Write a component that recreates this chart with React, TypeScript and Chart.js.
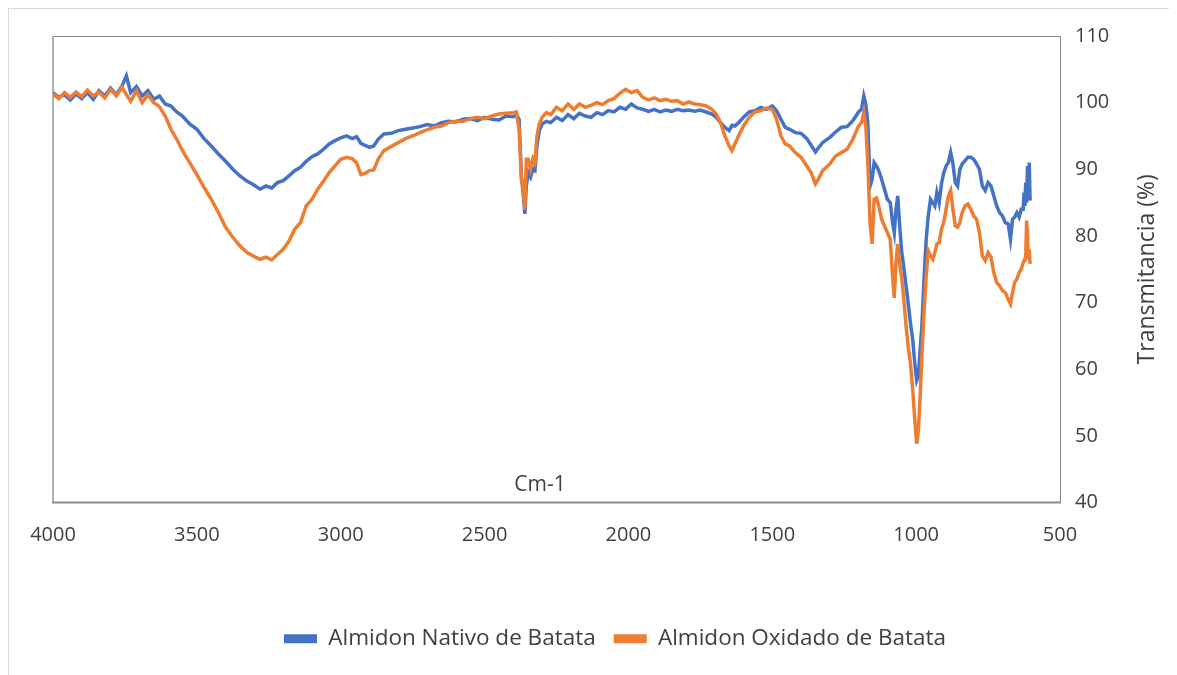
import { useEffect, useRef } from "react";
import { Chart, registerables } from "chart.js";

Chart.register(...registerables);

const wavenumbers = [
  4000, 3980, 3960, 3940, 3920, 3900, 3880, 3860, 3840, 3820,
  3800, 3780, 3760, 3745, 3730, 3710, 3690, 3670, 3650, 3630,
  3610, 3590, 3570, 3550, 3525, 3500, 3475, 3450, 3425, 3400,
  3375, 3350, 3325, 3300, 3280, 3260, 3240, 3220, 3200, 3180,
  3160, 3140, 3120, 3100, 3080, 3060, 3040, 3020, 3000, 2980,
  2960, 2945, 2930, 2915, 2900, 2885, 2870, 2850, 2825, 2800,
  2775, 2750, 2725, 2700, 2675, 2650, 2625, 2600, 2575, 2550,
  2525, 2500, 2475, 2450, 2425, 2400, 2390, 2380, 2372, 2365,
  2360, 2355, 2348, 2340, 2332, 2325, 2318, 2310, 2300, 2285,
  2270, 2250, 2230, 2210, 2190, 2170, 2150, 2130, 2110, 2090,
  2070, 2050, 2030, 2010, 1990, 1970, 1950, 1930, 1910, 1890,
  1870, 1850, 1830, 1810, 1790, 1770, 1750, 1730, 1710, 1695,
  1680, 1665, 1650, 1640, 1630, 1615, 1600, 1580, 1560, 1540,
  1520, 1500, 1485, 1470, 1455, 1440, 1420, 1400, 1380, 1365,
  1350, 1340, 1325, 1300, 1280, 1260, 1240, 1220, 1200, 1190,
  1182, 1175, 1168, 1160, 1153, 1146, 1138, 1130, 1120, 1110,
  1100, 1090, 1082, 1076, 1070, 1064, 1058, 1050, 1042, 1035,
  1028, 1020, 1012, 1005, 998, 992, 986, 980, 972, 965,
  958, 950, 942, 935, 928, 920, 912, 904, 896, 888,
  880, 872, 864, 856, 848, 840, 830, 820, 810, 800,
  790, 780, 770, 760, 750, 740, 730, 720, 710, 700,
  690, 680, 672, 665, 658, 650, 642, 635, 628, 625,
  622, 619, 616, 613, 610, 607, 604,
];

const nativo = [
  101.5, 100.8, 101.2, 100.4, 101.3, 100.6, 101.5, 100.5, 101.8, 101.0,
  102.2, 101.2, 102.5, 104.0, 101.5, 102.4, 101.0, 101.8, 100.5, 101.0,
  99.8, 99.5, 98.6, 98.0, 96.8, 96.0, 94.6, 93.5, 92.3, 91.2,
  90.0, 89.0, 88.2, 87.6, 87.0, 87.5, 87.2, 88.0, 88.3, 89.0,
  89.8, 90.3, 91.2, 91.9, 92.3, 93.0, 93.8, 94.3, 94.7, 95.0,
  94.6, 94.9, 93.9, 93.6, 93.3, 93.5, 94.5, 95.3, 95.4, 95.8,
  96.0, 96.2, 96.4, 96.7, 96.5, 97.0, 97.2, 97.1, 97.5, 97.6,
  97.3, 97.8, 97.5, 97.4, 98.0, 97.9, 98.2, 97.5, 89.0, 86.0,
  83.3, 87.5, 89.5, 88.8, 90.0, 89.8, 93.5, 95.8, 96.8, 97.2,
  97.0, 97.8, 97.3, 98.2, 97.6, 98.4, 98.0, 97.8, 98.5, 98.2,
  98.8, 98.6, 99.3, 99.0, 99.8, 99.2, 99.0, 98.7, 99.0, 98.6,
  98.9, 98.7, 99.0, 98.8, 98.9, 98.7, 98.9, 98.6, 98.3, 97.8,
  97.0, 96.3, 95.8, 96.6, 96.5, 97.1, 97.8, 98.6, 98.8, 99.3,
  99.0, 99.5, 98.8, 97.5, 96.3, 96.0, 95.5, 95.4, 94.6, 93.6,
  92.6, 93.2, 94.0, 94.8, 95.6, 96.3, 96.4, 97.3, 98.6, 99.0,
  101.0, 99.8, 97.0, 87.5, 88.5, 91.0, 90.5, 89.8, 88.5, 87.0,
  85.5, 85.0, 82.0, 80.5, 84.0, 86.0, 82.0, 77.5, 75.0, 72.5,
  70.0, 67.0, 64.5, 61.0, 58.3, 59.0, 63.0, 66.5, 74.0, 79.5,
  83.0, 85.5, 85.0, 84.5, 86.5, 85.0, 87.8, 89.5, 90.5, 91.0,
  92.5, 90.8, 88.0, 87.5, 90.0, 90.8, 91.3, 91.8, 91.8, 91.5,
  90.8, 90.0, 87.5, 86.8, 88.0, 87.5, 86.0, 84.5, 83.5, 83.0,
  82.0, 81.8, 79.5, 82.5, 82.8, 83.5, 82.8, 84.0, 84.0, 86.5,
  84.5, 88.0, 85.0, 90.5, 85.5, 91.0, 85.3,
];

const oxidado = [
  101.3, 100.6, 101.5, 100.8, 101.6, 100.9, 101.9, 101.0, 101.6, 100.7,
  102.0, 101.0, 102.3, 101.2, 100.2, 101.8, 100.0, 101.2, 100.0, 99.4,
  98.0, 96.0, 94.5, 92.8, 91.0, 89.2, 87.3, 85.5, 83.5, 81.3,
  79.8, 78.5, 77.5, 76.9, 76.5, 76.8, 76.4, 77.2, 78.0, 79.2,
  81.0, 82.0, 84.5, 85.5, 87.0, 88.2, 89.5, 90.5, 91.5, 91.8,
  91.6, 91.0, 89.2, 89.4, 89.8, 89.9, 91.5, 92.8, 93.4, 94.0,
  94.6, 95.0, 95.5, 95.9, 96.3, 96.5, 97.0, 97.2, 97.2, 97.6,
  97.8, 97.6, 98.0, 98.3, 98.4, 98.5, 98.6, 96.0, 88.5, 87.0,
  84.0, 91.5, 91.5, 90.0, 91.6, 91.0, 95.0, 96.8, 97.8, 98.5,
  98.2, 99.3, 98.8, 99.8, 99.0, 99.8, 99.3, 99.6, 100.0, 99.7,
  100.3, 100.6, 101.4, 102.0, 101.5, 101.8, 100.8, 100.4, 100.7, 100.3,
  100.5, 100.2, 100.3, 99.8, 100.1, 99.8, 99.7, 99.5, 99.0, 98.3,
  97.0, 95.0, 93.5, 92.8, 93.8, 95.2, 96.5, 97.8, 98.6, 98.8,
  99.2, 99.0, 97.5, 95.0, 93.8, 93.5, 92.5, 91.8, 90.5, 89.5,
  87.8, 88.5, 89.8, 90.8, 92.0, 92.5, 93.0, 94.5, 96.5, 97.0,
  98.5, 96.5, 91.0, 81.8, 78.8, 85.5, 85.7, 84.5, 82.5, 81.5,
  80.5, 79.5, 74.0, 70.7, 76.0, 78.8, 76.0, 73.7, 70.0, 66.5,
  63.5, 61.0, 57.0, 52.5, 48.8, 51.0, 56.0, 62.0, 69.0, 74.0,
  77.8, 77.0, 76.5, 77.5, 78.8, 79.0, 81.0, 82.0, 84.0, 86.0,
  86.8, 84.0, 81.5, 81.3, 82.0, 83.5, 84.5, 84.8, 84.0, 83.0,
  82.5, 80.5, 77.0, 76.3, 77.5, 76.8, 74.5, 73.0, 72.5, 71.8,
  71.5, 70.5, 69.8, 71.5, 73.0, 73.5, 74.5, 75.0, 76.0, 76.3,
  76.5, 77.0, 82.3, 80.0, 76.5, 78.0, 75.8,
];

const seriesNames = ["Almidon Nativo de Batata", "Almidon Oxidado de Batata"];
const seriesColors = ["#4472C4", "#ED7D31"];
const xAxisTitle = "Cm-1";
const yAxisTitle = "Transmitancia (%)";

const FONT = "'Open Sans', 'Liberation Sans', sans-serif";
const TEXT = "#404040";

export default function App() {
  const ref = useRef<HTMLCanvasElement>(null);

  useEffect(() => {
    const canvas = ref.current;
    if (!canvas) return;

    const decor = {
      id: "decor",
      beforeDatasetsDraw(chart: any) {
        const { ctx, chartArea } = chart;
        const { left, top, right, bottom } = chartArea;
        ctx.save();
        ctx.strokeStyle = "#8a8a8a";
        ctx.lineWidth = 1;
        ctx.beginPath();
        ctx.moveTo(left, top + 0.5);
        ctx.lineTo(right + 0.5, top + 0.5);
        ctx.lineTo(right + 0.5, bottom);
        ctx.stroke();
        ctx.strokeStyle = "#b0b0b0";
        ctx.lineWidth = 2;
        ctx.beginPath();
        ctx.moveTo(left, top);
        ctx.lineTo(left, bottom);
        ctx.stroke();
        ctx.strokeStyle = "#8a8a8a";
        ctx.beginPath();
        ctx.moveTo(left - 1, bottom);
        ctx.lineTo(right + 1, bottom);
        ctx.stroke();
        ctx.restore();
      },
      afterDraw(chart: any) {
        const { ctx, chartArea } = chart;
        const { left, top, right, bottom } = chartArea;
        ctx.save();
        ctx.fillStyle = TEXT;
        ctx.textAlign = "center";
        ctx.textBaseline = "middle";
        ctx.font = `21px ${FONT}`;
        ctx.fillText(xAxisTitle, left + 0.4836 * (right - left), bottom - 17);
        ctx.font = `23px ${FONT}`;
        ctx.translate(1138, (top + bottom) / 2);
        ctx.rotate(-Math.PI / 2);
        ctx.fillText(yAxisTitle, 0, 0);
        ctx.restore();
      },
    };

    const chart = new Chart(canvas, {
      type: "line",
      data: {
        labels: wavenumbers,
        datasets: [
          {
            label: seriesNames[0],
            data: wavenumbers.map((x, i) => ({ x, y: nativo[i] })),
            borderColor: seriesColors[0],
            backgroundColor: seriesColors[0],
            borderWidth: 3.5,
            pointRadius: 0,
            tension: 0,
            order: 1,
          },
          {
            label: seriesNames[1],
            data: wavenumbers.map((x, i) => ({ x, y: oxidado[i] })),
            borderColor: seriesColors[1],
            backgroundColor: seriesColors[1],
            borderWidth: 3.5,
            pointRadius: 0,
            tension: 0,
            order: 0,
          },
        ],
      },
      options: {
        responsive: false,
        animation: false,
        layout: { padding: { left: 44, top: 24, right: 0, bottom: 15 } },
        scales: {
          x: {
            type: "linear",
            reverse: true,
            min: 500,
            max: 4000,
            grid: { display: false, drawTicks: false },
            border: { display: false },
            ticks: {
              stepSize: 500,
              padding: 21,
              color: TEXT,
              font: { size: 20, family: FONT },
              maxRotation: 0,
              callback: (v: any) => String(v),
            },
            afterFit: (s: any) => {
              s.height = 107;
            },
          },
          y: {
            position: "right",
            min: 40,
            max: 110,
            grid: { display: false, drawTicks: false },
            border: { display: false },
            ticks: {
              stepSize: 10,
              padding: 15,
              color: TEXT,
              font: { size: 20, family: FONT },
              callback: (v: any) => String(v),
            },
            afterFit: (s: any) => {
              s.width = 117;
            },
          },
        },
        plugins: {
          tooltip: { enabled: false },
          legend: {
            position: "bottom",
            labels: {
              boxWidth: 33,
              boxHeight: 9,
              padding: 18,
              color: TEXT,
              font: { size: 22.5, family: FONT },
              sort: (a: any, b: any) => a.datasetIndex - b.datasetIndex,
              generateLabels: (c: any) =>
                Chart.defaults.plugins.legend.labels
                  .generateLabels(c)
                  .map((l: any) => ({ ...l, lineWidth: 0 })),
            },
          },
        },
      },
      plugins: [decor],
    });

    return () => chart.destroy();
  }, []);

  return (
    <div
      style={{
        width: 1169,
        height: 667,
        borderTop: "1px solid #d9d9d9",
        borderLeft: "1px solid #d9d9d9",
        boxSizing: "border-box",
        position: "relative",
      }}
    >
      <canvas
        ref={ref}
        width={1168}
        height={666}
        style={{ position: "absolute", left: 0, top: 0 }}
      />
    </div>
  );
}
